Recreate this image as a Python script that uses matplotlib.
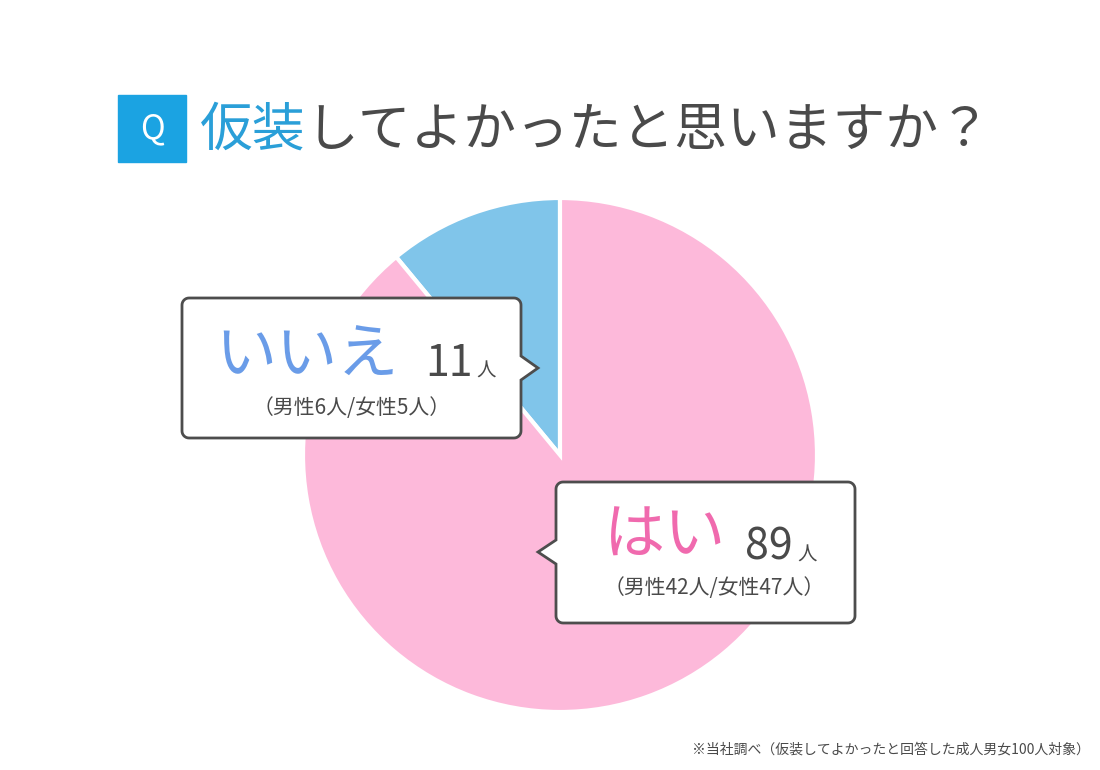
import numpy as np
import matplotlib
matplotlib.use("Agg")
import matplotlib.pyplot as plt
from matplotlib.path import Path
from matplotlib.patches import PathPatch, Rectangle

plt.rcParams['font.family'] = ['Noto Sans CJK JP', 'DejaVu Sans']

# data
answers = ['いいえ', 'はい']
counts = [11, 89]
male = [6, 42]
female = [5, 47]
colors = ['#80c5ea', '#fdb9da']
label_colors = ['#6a9ce8', '#f06aae']

title_q = 'Q'
title_blue = '仮装'
title_rest = 'してよかったと思いますか？'
footnote = '※当社調べ（仮装してよかったと回答した成人男女100人対象）'

W, H = 1100, 770
GRAY = '#4a4a4a'


def Y(y):
	# image row -> data y
	return H - y


def callout_path(x0, y0, x1, y1, r, side, py, tip, h):
	# rounded box with a small pointer, coords in image pixels
	yb, yt = Y(y1), Y(y0)
	py = Y(py)
	pts = []

	def arc(cx, cy, a0, a1):
		for a in np.linspace(np.radians(a0), np.radians(a1), 8):
			pts.append((cx + r*np.cos(a), cy + r*np.sin(a)))

	arc(x1 - r, yb + r, 270, 360)
	if side == 'right':
		pts += [(x1, py - h), (tip, py), (x1, py + h)]
	arc(x1 - r, yt - r, 0, 90)
	arc(x0 + r, yt - r, 90, 180)
	if side == 'left':
		pts += [(x0, py + h), (tip, py), (x0, py - h)]
	arc(x0 + r, yb + r, 180, 270)
	pts.append(pts[0])
	codes = [Path.MOVETO] + [Path.LINETO]*(len(pts) - 2) + [Path.CLOSEPOLY]
	return Path(pts, codes)


fig = plt.figure(figsize=(11, 7.7), dpi=100)
ax = fig.add_axes([0, 0, 1, 1])

# pie
ax.pie(counts, colors=colors, startangle=90, counterclock=True,
	center=(560, Y(455)), radius=257,
	wedgeprops=dict(edgecolor='white', linewidth=3), frame=True)
ax.set_xlim(0, W)
ax.set_ylim(0, H)
ax.set_aspect('equal')
ax.axis('off')

# title
ax.add_patch(Rectangle((118, Y(162)), 68, 67, color='#1ba3e2', zorder=5))
ax.text(152, Y(129), title_q, color='white', fontsize=24, ha='center', va='center', zorder=6)
t1 = ax.text(200, Y(130), title_blue, color='#2a9fd8', fontsize=38, ha='left', va='center')
ax.annotate(title_rest, xy=(1, 0.5), xycoords=t1, color=GRAY, fontsize=38,
	ha='left', va='center')

# callouts
boxes = [
	dict(box=(182, 298, 521, 438), side='right', py=368, tip=538,
		word=(215, 357), num=(425, 364), sub=(352, 408)),
	dict(box=(556, 482, 855, 623), side='left', py=552, tip=538,
		word=(604, 536), num=(745, 548), sub=(714, 588)),
]
for i, b in enumerate(boxes):
	x0, y0, x1, y1 = b['box']
	p = callout_path(x0, y0, x1, y1, 7, b['side'], b['py'], b['tip'], 12)
	ax.add_patch(PathPatch(p, facecolor='white', edgecolor='#4d4d4d', linewidth=2, zorder=5))
	ax.text(b['word'][0], Y(b['word'][1]), answers[i], color=label_colors[i],
		fontsize=44, ha='left', va='center', zorder=6)
	tn = ax.text(b['num'][0], Y(b['num'][1]), str(counts[i]), color=GRAY,
		fontsize=31, ha='left', va='center', zorder=6)
	ax.annotate('人', xy=(1, 0.33), xycoords=tn, xytext=(3, 0), textcoords='offset points',
		color=GRAY, fontsize=14, ha='left', va='center', zorder=6)
	ax.text(b['sub'][0], Y(b['sub'][1]), f'（男性{male[i]}人/女性{female[i]}人）',
		color=GRAY, fontsize=15, ha='center', va='center', zorder=6)

ax.text(1090, Y(750), footnote, color=GRAY, fontsize=10, ha='right', va='center')

fig.savefig('out.png', dpi=100, facecolor='white')
